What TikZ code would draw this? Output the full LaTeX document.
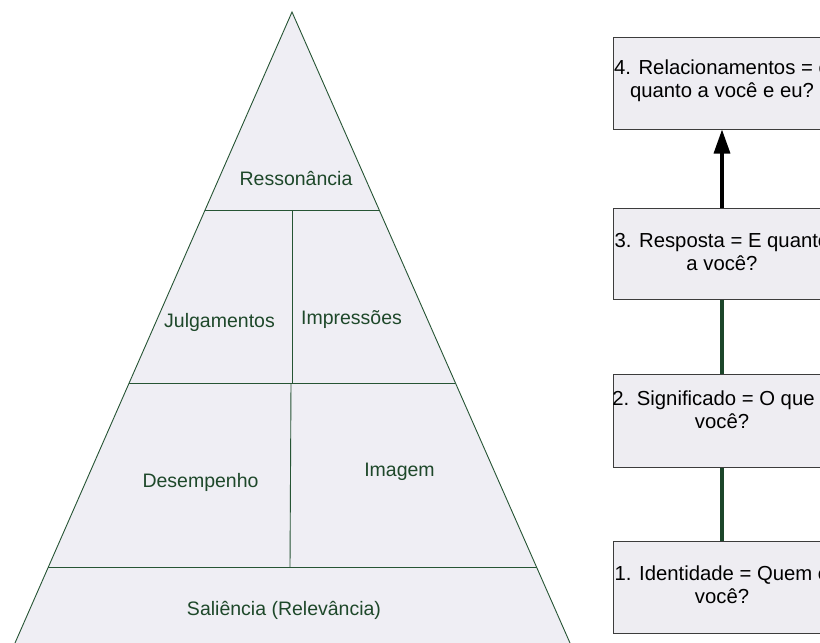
\documentclass[tikz,border=0pt]{standalone}
\usepackage{fontspec}
\setmainfont{Liberation Sans}
\usetikzlibrary{calc,arrows.meta}
\definecolor{pyrfill}{RGB}{239,238,244}
\definecolor{pyrline}{RGB}{38,84,52}
\definecolor{pyrtext}{RGB}{30,72,42}
\definecolor{boxfill}{RGB}{238,237,242}
\definecolor{boxline}{RGB}{60,60,60}
\definecolor{linkgreen}{RGB}{28,70,42}
\begin{document}
\begin{tikzpicture}[x=1pt,y=-1pt,
  tier/.style={pyrline, line width=0.9pt},
  tierlabel/.style={pyrtext, anchor=base, inner sep=0pt, font=\fontsize{19.5}{23}\selectfont},
  stagebox/.style={draw=boxline, fill=boxfill, line width=1pt, minimum width=218pt, minimum height=92pt, inner sep=0pt},
  stagetext/.style={align=center, inner sep=0pt, font=\fontsize{20.3}{23}\selectfont},
  uplink/.style={line width=3.3pt, -{Triangle[length=24pt,width=16pt]}},
  greenlink/.style={linkgreen, line width=3.3pt}]
\useasboundingbox (0,0) rectangle (820,643);
\clip (0,0) rectangle (820,643);

% pyramid outline
\coordinate (apex) at (292,12);
\coordinate (bl) at (15,643);
\coordinate (br) at (570,643);
\fill[pyrfill] (apex) -- ($(apex)!1.03!(bl)$) -- ($(apex)!1.03!(br)$) -- cycle;
\draw[tier] ($(apex)!1.03!(bl)$) -- (apex) -- ($(apex)!1.03!(br)$);

% tier boundaries
\coordinate (l1) at ($(apex)!0.3138!(bl)$);
\coordinate (r1) at ($(apex)!0.3138!(br)$);
\coordinate (l2) at ($(apex)!0.5880!(bl)$);
\coordinate (r2) at ($(apex)!0.5880!(br)$);
\coordinate (l3) at ($(apex)!0.8796!(bl)$);
\coordinate (r3) at ($(apex)!0.8796!(br)$);
\draw[tier] (l1) -- (r1);
\draw[tier] (l2) -- (r2);
\draw[tier] (l3) -- (r3);

% vertical dividers
\coordinate (d1) at (292,210);
\coordinate (d2) at (292,383);
\coordinate (d3) at (291,383);
\coordinate (d4) at (290,567);
\draw[tier] (d1) -- (d2);
\draw[tier] (d3) -- (d4);

% tier labels
\node[tierlabel] (ress) at (296,185) {Ressonância};
\node[tierlabel] (julg) at (219.5,327) {Julgamentos};
\node[tierlabel] (impr) at (351.5,324) {Impressões};
\node[tierlabel] (dese) at (200.5,487) {Desempenho};
\node[tierlabel] (imag) at (399.5,476) {Imagem};
\node[tierlabel] (sali) at (284,615) {Saliência (Relevância)};

% stage boxes
\node[stagebox] (s4) at (722,83) {};
\node[stagebox, minimum height=91pt] (s3) at (722,253.5) {};
\node[stagebox, minimum height=93pt] (s2) at (722,420.5) {};
\node[stagebox] (s1) at (722,587) {};

\node[stagetext] (t4) at (722,80.9) {\strut 4. Relacionamentos = e\\\strut quanto a você e eu?};
\node[stagetext] (t3) at (722,253.9) {\strut 3. Resposta = E quanto\\\strut a você?};
\node[stagetext] (t2) at (722,412.4) {\strut 2. Significado = O que é\\\strut você?};
\node[stagetext] (t1) at (722,587.4) {\strut 1. Identidade = Quem é\\\strut você?};

% connectors
\draw[uplink] (s3.north) -- (s4.south);
\draw[greenlink] (s2.north) -- (s3.south);
\draw[greenlink] (s1.north) -- (s2.south);
\end{tikzpicture}
\end{document}
